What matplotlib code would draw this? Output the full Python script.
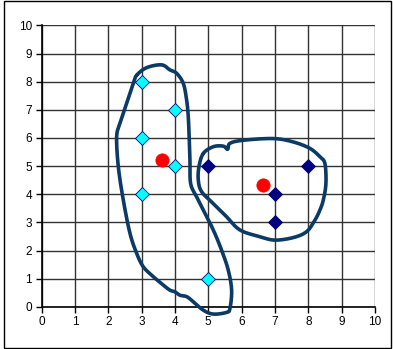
import numpy as np
import matplotlib
matplotlib.use("Agg")
import matplotlib.pyplot as plt
from matplotlib.patches import Rectangle

plt.rcParams['font.family'] = ['Liberation Sans', 'DejaVu Sans']

# Cluster A points
a_x = [3, 4, 3, 4, 3, 5]
a_y = [8, 7, 6, 5, 4, 1]
# Cluster B points
b_x = [5, 8, 7, 7]
b_y = [5, 5, 4, 3]
# Centroids
c_x = [3.6, 6.65]
c_y = [5.22, 4.33]

# Hand-drawn outline around cluster A
loop_a_x = [2.85, 3.15, 3.6, 3.85, 4.05, 4.25, 4.35, 4.40, 4.43, 4.45, 4.47, 4.65, 4.85,
            5.15, 5.40, 5.60, 5.70, 5.65, 5.55, 5.15, 4.85, 4.55, 4.35, 4.15, 4.00, 3.85,
            3.65, 3.35, 3.05, 2.85, 2.65, 2.45, 2.30, 2.25, 2.35, 2.55, 2.75]
loop_a_y = [8.23, 8.50, 8.60, 8.42, 8.30, 7.94, 7.35, 6.75, 5.92, 5.21, 4.38, 3.91, 3.44,
            2.73, 2.01, 1.30, 0.59, -0.06, -0.20, -0.26, -0.12, 0.18, 0.36, 0.41, 0.53, 0.59,
            0.77, 1.07, 1.42, 1.90, 2.61, 3.79, 4.98, 6.04, 6.52, 7.23, 7.94]
# Hand-drawn outline around cluster B
loop_b_x = [4.85, 5.15, 5.45, 5.58, 5.65, 6.05, 6.95, 7.55, 8.05, 8.35, 8.50, 8.53, 8.45,
            8.35, 8.20, 7.95, 7.55, 7.00, 6.55, 5.95, 5.55, 5.15, 4.80, 4.70, 4.72]
loop_b_y = [5.45, 5.69, 5.71, 5.60, 5.81, 5.92, 5.98, 5.86, 5.63, 5.33, 5.09, 4.38, 3.79,
            3.44, 3.08, 2.67, 2.46, 2.37, 2.49, 2.73, 3.20, 3.67, 4.09, 4.50, 4.98]

ticks = list(range(0, 11))


def closed_spline(xs, ys, n=12):
    """Closed Catmull-Rom curve through the given vertices."""
    p = np.column_stack([xs, ys]).astype(float)
    m = len(p)
    out = []
    t = np.linspace(0, 1, n, endpoint=False)[:, None]
    for i in range(m):
        p0, p1, p2, p3 = p[(i - 1) % m], p[i], p[(i + 1) % m], p[(i + 2) % m]
        seg = 0.5 * ((2 * p1) + (-p0 + p2) * t + (2 * p0 - 5 * p1 + 4 * p2 - p3) * t ** 2
                     + (-p0 + 3 * p1 - 3 * p2 + p3) * t ** 3)
        out.append(seg)
    out = np.vstack(out + [p[:1]])
    return out[:, 0], out[:, 1]


fig = plt.figure(figsize=(3.93, 3.49), dpi=100)
ax = fig.add_axes([0.106, 0.121, 0.848, 0.806])

ax.set_xlim(0, 10)
ax.set_ylim(0, 10)
ax.set_xticks(ticks)
ax.set_yticks(ticks)
ax.grid(True, color='#333333', linewidth=1.0)
ax.set_axisbelow(True)
for side in ('top', 'right'):
    ax.spines[side].set_visible(False)
for side in ('left', 'bottom'):
    ax.spines[side].set_color('black')
    ax.spines[side].set_linewidth(1.2)
ax.tick_params(direction='out', length=4, width=1, labelsize=8.5, colors='black', pad=3)

lc = '#0B3A66'
for lx, ly in ((loop_a_x, loop_a_y), (loop_b_x, loop_b_y)):
    sx, sy = closed_spline(lx, ly)
    ax.plot(sx, sy, color=lc, linewidth=2.6, clip_on=False, zorder=3,
            solid_capstyle='round', solid_joinstyle='round')

ax.plot(a_x, a_y, linestyle='none', marker='D', markersize=7.2, markerfacecolor='#00FFFF',
        markeredgecolor='#000080', markeredgewidth=0.6, zorder=4, clip_on=False)
ax.plot(b_x, b_y, linestyle='none', marker='D', markersize=7.2, markerfacecolor='#000080',
        markeredgecolor='#000080', markeredgewidth=0.6, zorder=4, clip_on=False)
ax.plot(c_x, c_y, linestyle='none', marker='o', markersize=9.6, markerfacecolor='#FF0000',
        markeredgecolor='#FF0000', markeredgewidth=0.5, zorder=5, clip_on=False)

fig.patches.append(Rectangle((0.011, 0.004), 0.984, 0.992, transform=fig.transFigure,
                             fill=False, edgecolor='black', linewidth=1.0))

fig.savefig('out.png', dpi=100)
